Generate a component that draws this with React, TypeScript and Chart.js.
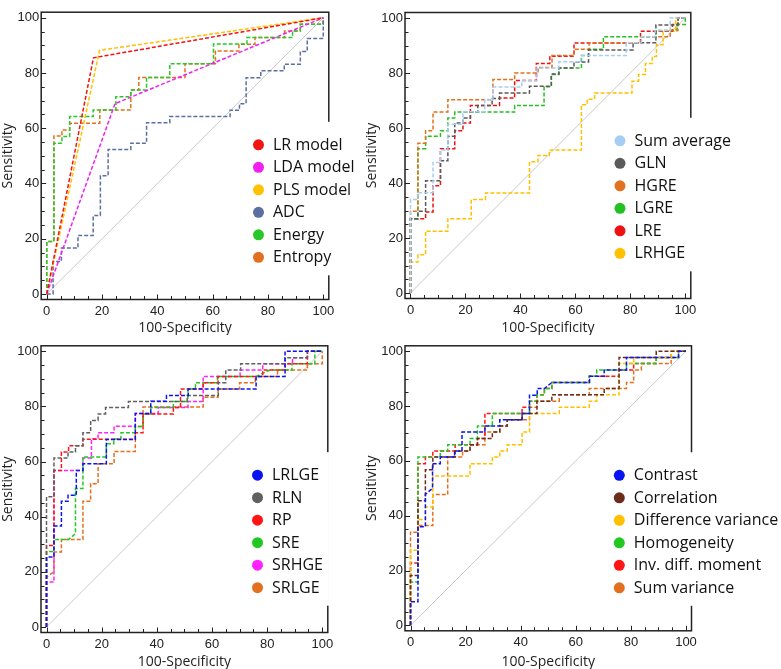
import React, { useEffect, useRef } from "react";
import { Chart, registerables } from "chart.js";
Chart.register(...registerables);

type P = [number, number];

const tickValues = [0, 20, 40, 60, 80, 100];
const xTitle = "100-Specificity";
const yTitle = "Sensitivity";
const diagonal: P[] = [[0, 0], [100, 100]];

// ---- Panel A ----
const labelsA = ["LR model", "LDA model", "PLS model", "ADC", "Energy", "Entropy"];
const colorsA = ["#f01414", "#f020f0", "#ffc000", "#5c6fa3", "#28c828", "#e3701e"];
const lrModel: P[] = [[0, 0], [16.9, 85.5], [100, 100]];
const ldaModel: P[] = [[0, 0], [24.7, 68.9], [100, 100]];
const plsModel: P[] = [[0, 0], [19.1, 88.2], [100, 100]];
const adc: P[] = [[0, 0], [2.3, 0], [2.3, 11.8], [5.3, 11.8], [5.3, 16.6], [11.3, 16.6], [11.3, 21.2], [16.8, 21.2], [16.8, 28.4], [19.4, 28.4], [19.4, 42.8], [22.2, 42.8], [22.2, 52.3], [30.4, 52.3], [30.4, 54.6], [36.1, 54.6], [36.1, 62], [44.5, 62], [44.5, 64.2], [66.3, 64.2], [66.3, 66.5], [69.7, 66.5], [69.7, 68.9], [72.1, 68.9], [72.1, 78.3], [77.4, 78.3], [77.4, 80.8], [85.9, 80.8], [85.9, 83.2], [91.7, 83.2], [91.7, 87.8], [94.2, 87.8], [94.2, 92.5], [100, 92.5], [100, 100]];
const energy: P[] = [[0, 0], [0, 19], [2.6, 19], [2.6, 54.6], [5.5, 54.6], [5.5, 57], [8.3, 57], [8.3, 64.2], [16.8, 64.2], [16.8, 66.6], [25, 66.6], [25, 71.4], [30.4, 71.4], [30.4, 73.8], [36.1, 73.8], [36.1, 78.4], [44.5, 78.4], [44.5, 83.3], [60.3, 83.3], [60.3, 90.5], [72.4, 90.5], [72.4, 92.8], [88.9, 92.8], [88.9, 95.2], [91.7, 95.2], [91.7, 97.6], [100, 97.6], [100, 100]];
const entropy: P[] = [[0, 0], [0, 19], [2.6, 19], [2.6, 57.2], [5.5, 57.2], [5.5, 59.4], [8.3, 59.4], [8.3, 61.8], [19.2, 61.8], [19.2, 66.6], [30.4, 66.6], [30.4, 73.8], [33.3, 73.8], [33.3, 78.4], [50, 78.4], [50, 83.3], [61, 83.3], [61, 88], [69.5, 88], [69.5, 90.4], [75.3, 90.4], [75.3, 92.8], [86, 92.8], [86, 95.2], [91.7, 95.2], [91.7, 97.6], [100, 97.6], [100, 100]];

// ---- Panel B ----
const labelsB = ["Sum average", "GLN", "HGRE", "LGRE", "LRE", "LRHGE"];
const colorsB = ["#a6cdf4", "#5a5a5a", "#e3701e", "#22c022", "#ee1111", "#ffc000"];
const sumAverage: P[] = [[0, 0], [0, 34], [2.7, 34], [2.7, 36.5], [8.2, 36.5], [8.2, 47.5], [10.9, 47.5], [10.9, 52], [13.6, 52], [13.6, 61.4], [19.1, 61.4], [19.1, 65.9], [27, 65.9], [27, 70.4], [30, 70.4], [30, 74.9], [40.5, 74.9], [40.5, 77.3], [46, 77.3], [46, 81.8], [54, 81.8], [54, 84.1], [62, 84.1], [62, 86.4], [78.5, 86.4], [78.5, 91], [84, 91], [84, 93.2], [89, 93.2], [89, 95.5], [94.5, 95.5], [94.5, 100], [100, 100]];
const gln: P[] = [[0, 0], [0, 27], [2.7, 27], [2.7, 29.7], [5.5, 29.7], [5.5, 40.8], [10.9, 40.8], [10.9, 48.1], [13.6, 48.1], [13.6, 57], [16.1, 57], [16.1, 61.8], [19.1, 61.8], [19.1, 63.6], [21.8, 63.6], [21.8, 65.9], [24.5, 65.9], [24.5, 68.2], [29.7, 68.2], [29.7, 70.7], [32.4, 70.7], [32.4, 72.7], [43.3, 72.7], [43.3, 75.2], [51.2, 75.2], [51.2, 79.6], [54, 79.6], [54, 81.8], [59.5, 81.8], [59.5, 84], [64.8, 84], [64.8, 88.4], [81, 88.4], [81, 91], [89.3, 91], [89.3, 97.5], [97.3, 97.5], [97.3, 100], [100, 100]];
const hgre: P[] = [[0, 0], [0, 29.7], [2.7, 29.7], [2.7, 54.5], [5.5, 54.5], [5.5, 59], [8.2, 59], [8.2, 65.8], [13.6, 65.8], [13.6, 70.3], [30, 70.3], [30, 77.6], [37.9, 77.6], [37.9, 80], [46.4, 80], [46.4, 82], [51.5, 82], [51.5, 86.4], [59.5, 86.4], [59.5, 88.6], [65, 88.6], [65, 90.9], [84, 90.9], [84, 93.2], [94.5, 93.2], [94.5, 95.5], [97.3, 95.5], [97.3, 100], [100, 100]];
const lgre: P[] = [[0, 0], [0, 27], [2.7, 27], [2.7, 52.5], [5.5, 52.5], [5.5, 57], [10.9, 57], [10.9, 59], [13.6, 59], [13.6, 63.6], [16.1, 63.6], [16.1, 65.8], [37.9, 65.8], [37.9, 68.2], [48.6, 68.2], [48.6, 75], [51.3, 75], [51.3, 79.5], [54, 79.5], [54, 81.8], [62.2, 81.8], [62.2, 86.4], [64.8, 86.4], [64.8, 88.6], [70.2, 88.6], [70.2, 93.2], [89.3, 93.2], [89.3, 95.5], [97, 95.5], [97, 97.6], [100, 97.6], [100, 100]];
const lre: P[] = [[0, 0], [0, 27], [5.5, 27], [5.5, 29.5], [8.2, 29.5], [8.2, 39], [10.9, 39], [10.9, 52.5], [16.1, 52.5], [16.1, 59], [19.1, 59], [19.1, 61.8], [21.8, 61.8], [21.8, 68.2], [32.4, 68.2], [32.4, 70.9], [37.9, 70.9], [37.9, 77.3], [45.8, 77.3], [45.8, 83.5], [50.7, 83.5], [50.7, 86.1], [59.5, 86.1], [59.5, 90.9], [83.7, 90.9], [83.7, 95.2], [95.3, 95.2], [95.3, 97.6], [97.4, 97.6], [97.4, 100], [100, 100]];
const lrhge: P[] = [[0, 0], [0, 11.3], [2.7, 11.3], [2.7, 13.9], [5.5, 13.9], [5.5, 22.5], [13.6, 22.5], [13.6, 27], [22.1, 27], [22.1, 34], [27.3, 34], [27.3, 36.4], [43.3, 36.4], [43.3, 47.7], [46.4, 47.7], [46.4, 50], [50.5, 50], [50.5, 52], [62.2, 52], [62.2, 68.5], [64.3, 68.5], [64.3, 70.5], [67, 70.5], [67, 72.7], [80.6, 72.7], [80.6, 77], [83, 77], [83, 79.5], [85.5, 79.5], [85.5, 83.5], [88, 83.5], [88, 86], [89.5, 86], [89.5, 90.3], [91.9, 90.3], [91.9, 95.2], [96.5, 95.2], [96.5, 100], [100, 100]];

// ---- Panel C ----
const labelsC = ["LRLGE", "RLN", "RP", "SRE", "SRHGE", "SRLGE"];
const colorsC = ["#0a14f0", "#606060", "#ff1515", "#22c822", "#ff22ff", "#e3701e"];
const lrlge: P[] = [[0, 0], [0, 25.4], [2.7, 25.4], [2.7, 36.6], [5.4, 36.6], [5.4, 45.6], [7.8, 45.6], [7.8, 47.8], [10.8, 47.8], [10.8, 56.8], [13.2, 56.8], [13.2, 59.2], [21.7, 59.2], [21.7, 68], [32.2, 68], [32.2, 77.4], [37.8, 77.4], [37.8, 81.9], [43.5, 81.9], [43.5, 84], [51.4, 84], [51.4, 86.3], [76, 86.3], [76, 90.9], [86.5, 90.9], [86.5, 100], [100, 100]];
const rln: P[] = [[0, 0], [0, 47.2], [2.7, 47.2], [2.7, 61.3], [7.8, 61.3], [7.8, 63.5], [10.5, 63.5], [10.5, 65.7], [13.2, 65.7], [13.2, 70.5], [16, 70.5], [16, 74.9], [18.7, 74.9], [18.7, 77.3], [21.4, 77.3], [21.4, 79.6], [29.7, 79.6], [29.7, 81.8], [51, 81.8], [51, 84], [62.3, 84], [62.3, 88.6], [65, 88.6], [65, 93.2], [70.4, 93.2], [70.4, 95.5], [86.5, 95.5], [86.5, 97.7], [94.6, 97.7], [94.6, 100], [100, 100]];
const rp: P[] = [[0, 0], [0, 29.6], [2.7, 29.6], [2.7, 56.8], [5.4, 56.8], [5.4, 63.5], [8, 63.5], [8, 65.7], [13.2, 65.7], [13.2, 68.1], [32.2, 68.1], [32.2, 70.5], [35, 70.5], [35, 77.3], [46, 77.3], [46, 79.6], [48.6, 79.6], [48.6, 86.3], [56.8, 86.3], [56.8, 88.6], [62.2, 88.6], [62.2, 90.9], [78.4, 90.9], [78.4, 93.2], [86.5, 93.2], [86.5, 95.5], [94.6, 95.5], [94.6, 100], [100, 100]];
const sre: P[] = [[0, 0], [0, 27.4], [2.7, 27.4], [2.7, 31.7], [8, 31.7], [10.5, 33.9], [10.5, 50.2], [13.2, 50.2], [13.2, 61.7], [21.7, 61.7], [21.7, 66.5], [24.4, 66.5], [24.4, 68.2], [27, 68.2], [27, 70.5], [32.2, 70.5], [32.2, 72.7], [35, 72.7], [35, 77.3], [37.8, 77.3], [37.8, 79.6], [46, 79.6], [46, 81.8], [51.3, 81.8], [51.3, 86.3], [54, 86.3], [54, 88.6], [62, 88.6], [62, 90.9], [76, 90.9], [81, 93.2], [89, 93.2], [89, 95.5], [97.3, 95.5], [97.3, 100], [100, 100]];
const srhge: P[] = [[0, 0], [0, 16.3], [2.7, 16.3], [2.7, 56.8], [13.2, 56.8], [13.2, 61.3], [16.3, 61.3], [16.3, 68.3], [18.7, 68.3], [18.7, 70.5], [24.5, 70.5], [24.5, 72.8], [32.2, 72.8], [32.2, 77.4], [40.5, 77.4], [40.5, 79.6], [51.3, 79.6], [51.3, 81.8], [56.8, 81.8], [56.8, 90.9], [70.2, 90.9], [70.2, 93.2], [78.4, 93.2], [78.4, 95.5], [89.2, 95.5], [89.2, 97.7], [94.6, 97.7], [94.6, 100], [100, 100]];
const srlge: P[] = [[0, 0], [0, 18.1], [2.7, 20], [2.7, 27.2], [5.4, 27.2], [5.4, 31.7], [13.2, 31.7], [13.2, 45.6], [16, 45.6], [16, 52], [18.7, 52], [18.7, 59.2], [24.5, 59.2], [24.5, 63.7], [32.2, 63.7], [32.2, 72.7], [35, 72.7], [35, 79.8], [56.8, 79.8], [56.8, 83.3], [62.2, 83.3], [62.2, 86.3], [70, 86.3], [70, 88.6], [75.7, 88.6], [75.7, 90.9], [83.8, 90.9], [83.8, 93.2], [94.6, 93.2], [94.6, 95.5], [100, 95.5], [100, 100]];

// ---- Panel D ----
const labelsD = ["Contrast", "Correlation", "Difference variance", "Homogeneity", "Inv. diff. moment", "Sum variance"];
const colorsD = ["#0a14f0", "#6b2c1c", "#ffc000", "#22c822", "#ff1515", "#e3701e"];
const contrast: P[] = [[0, 0], [0, 8.6], [2.7, 8.6], [2.7, 36], [5.4, 36], [5.4, 47.8], [8, 50], [8, 59], [10.8, 59], [10.8, 61.4], [16, 61.4], [16, 63.6], [18.7, 63.6], [18.7, 70.5], [27, 70.5], [27, 72.7], [32.4, 72.7], [32.4, 75], [40.5, 75], [40.5, 77.3], [43.2, 77.3], [43.2, 84], [46, 84], [46, 86.4], [48.6, 86.4], [51.3, 88.6], [65, 88.6], [65, 90.9], [70.3, 90.9], [70.3, 93.2], [78.4, 93.2], [78.4, 97.7], [97.3, 97.7], [97.3, 100], [100, 100]];
const correlation: P[] = [[0, 0], [0, 18.2], [2.7, 18.2], [2.7, 45.5], [5.4, 45.5], [5.4, 56.8], [8.1, 56.8], [8.1, 61.4], [16.2, 61.4], [16.2, 63.6], [21.6, 63.6], [21.6, 65.9], [24.3, 65.9], [24.3, 68.2], [29.7, 68.2], [29.7, 70.5], [32.4, 70.5], [32.4, 72.7], [35.1, 72.7], [35.1, 75], [40.5, 75], [40.5, 77.3], [45.9, 77.3], [45.9, 81.8], [51.3, 81.8], [51.3, 84.1], [70.3, 84.1], [70.3, 86.4], [75.7, 86.4], [75.7, 97.7], [89.2, 97.7], [89.2, 100], [100, 100]];
const diffVariance: P[] = [[0, 0], [0, 27.4], [2.7, 27.4], [2.7, 38.6], [5.4, 38.6], [5.4, 43.2], [8.1, 43.2], [8.1, 54.5], [21.6, 54.5], [21.6, 59], [29.7, 59], [29.7, 61.4], [32.4, 61.4], [32.4, 63.6], [35.1, 63.6], [35.1, 65.9], [40.5, 65.9], [40.5, 70.5], [43.2, 70.5], [43.2, 77.3], [54, 77.3], [54, 79.6], [64.9, 79.6], [64.9, 81.8], [67.6, 81.8], [67.6, 84.1], [75.7, 84.1], [75.7, 95.5], [81, 95.5], [81, 97.7], [94.6, 97.7], [94.6, 100], [100, 100]];
const homogeneity: P[] = [[0, 0], [0, 15.8], [2.7, 15.8], [2.7, 61.4], [10.8, 61.4], [10.8, 63.6], [13.5, 63.6], [13.5, 65.9], [21.6, 65.9], [21.6, 68.2], [24.3, 68.2], [24.3, 72.7], [29.7, 72.7], [29.7, 77.3], [43.2, 77.3], [43.2, 81.8], [45.9, 81.8], [45.9, 84.1], [48.6, 84.1], [48.6, 86.4], [51.3, 86.4], [51.3, 88.6], [64.9, 88.6], [64.9, 90.9], [67.6, 90.9], [67.6, 93.2], [78.4, 93.2], [78.4, 95.5], [89.2, 95.5], [89.2, 97.7], [97.3, 97.7], [97.3, 100], [100, 100]];
const invDiffMoment: P[] = [[0, 0], [0, 22.7], [2.7, 22.7], [2.7, 59], [5.4, 59], [5.4, 61.4], [8.1, 61.4], [8.1, 63.6], [16.2, 63.6], [16.2, 65.9], [24.3, 65.9], [24.3, 68.2], [27, 68.2], [27, 77.3], [40.5, 77.3], [40.5, 79.6], [43.2, 79.6], [43.2, 81.8], [45.9, 81.8], [45.9, 84.1], [48.6, 84.1], [48.6, 86.4], [51.3, 86.4], [51.3, 88.6], [64.9, 88.6], [64.9, 90.9], [75.7, 90.9], [75.7, 93.2], [81, 93.2], [81, 95.5], [89.2, 95.5], [89.2, 97.7], [97.3, 97.7], [97.3, 100], [100, 100]];
const sumVariance: P[] = [[0, 0], [0, 34], [2.7, 34], [2.7, 36.4], [8.1, 36.4], [8.1, 47.7], [13.5, 47.7], [13.5, 61.4], [18.9, 61.4], [18.9, 63.6], [21.6, 63.6], [21.6, 65.9], [27, 65.9], [27, 70.5], [32.4, 70.5], [32.4, 72.7], [35.1, 72.7], [35.1, 75], [43.2, 75], [43.2, 79.6], [45.9, 79.6], [45.9, 81.8], [54, 81.8], [54, 84.1], [64.9, 84.1], [64.9, 86.4], [78.4, 86.4], [78.4, 88.6], [81, 88.6], [81, 93.2], [83.8, 93.2], [83.8, 95.5], [94.6, 95.5], [94.6, 100], [100, 100]];

type PanelCfg = {
  left: number; top: number; w: number; h: number;
  area: { l: number; r: number; t: number; b: number };
  padL: number;
  legend: { cx: number; y0: number };
  labels: string[]; colors: string[]; series: P[][];
};

const panels: PanelCfg[] = [
  { left: 0, top: 0, w: 390, h: 335, area: { l: 41.2, r: 328.8, t: 12.2, b: 299.5 }, padL: 1.3,
    legend: { cx: 258.5, y0: 144.8 }, labels: labelsA, colors: colorsA,
    series: [lrModel, ldaModel, plsModel, adc, energy, entropy] },
  { left: 360, top: 0, w: 421, h: 335, area: { l: 45, r: 330.8, t: 12.5, b: 298.5 }, padL: 5,
    legend: { cx: 260, y0: 140.8 }, labels: labelsB, colors: colorsB,
    series: [sumAverage, gln, hgre, lgre, lre, lrhge] },
  { left: 0, top: 335, w: 390, h: 334, area: { l: 41, r: 327.8, t: 10.8, b: 297.5 }, padL: 1.3,
    legend: { cx: 257.5, y0: 140.2 }, labels: labelsC, colors: colorsC,
    series: [lrlge, rln, rp, sre, srhge, srlge] },
  { left: 360, top: 335, w: 421, h: 334, area: { l: 45, r: 331.5, t: 10.8, b: 295.8 }, padL: 5,
    legend: { cx: 259.3, y0: 140.3 }, labels: labelsD, colors: colorsD,
    series: [contrast, correlation, diffVariance, homogeneity, invDiffMoment, sumVariance] },
];

const decorPlugin = {
  id: "decor",
  afterDraw(chart: any, _args: any, opts: any) {
    const { ctx, chartArea: a } = chart;
    const xs = chart.scales.x;
    const ys = chart.scales.y;
    ctx.save();
    ctx.strokeStyle = "#222";
    ctx.lineWidth = 1;
    for (let v = 0; v <= 100; v += 5) {
      const len = v % 20 === 0 ? 5 : 3.5;
      const px = Math.round(xs.getPixelForValue(v)) + 0.5;
      ctx.beginPath();
      ctx.moveTo(px, a.bottom);
      ctx.lineTo(px, a.bottom - len);
      ctx.stroke();
      const py = Math.round(ys.getPixelForValue(v)) + 0.5;
      ctx.beginPath();
      ctx.moveTo(a.left, py);
      ctx.lineTo(a.left + len, py);
      ctx.stroke();
    }
    ctx.lineWidth = 1.5;
    ctx.strokeRect(a.left, a.top, a.right - a.left, a.bottom - a.top);

    const L = opts.legend;
    const step = 22.5;
    ctx.font = '16px "Open Sans"';
    const items = chart.data.datasets.filter((d: any) => d.label);
    const widths = items.map((d: any) => ctx.measureText(d.label).width);
    const boxL = L.cx - 12;
    const boxR = Math.min(chart.width, L.cx + 14.5 + Math.max(...widths) + 6);
    const boxT = L.y0 - 23;
    const boxB = L.y0 + (items.length - 1) * step + 18;
    ctx.fillStyle = "#fff";
    ctx.fillRect(boxL, boxT, boxR - boxL, boxB - boxT);
    items.forEach((d: any, i: number) => {
      const cy = L.y0 + i * step;
      ctx.beginPath();
      ctx.arc(L.cx, cy, 5.5, 0, Math.PI * 2);
      ctx.fillStyle = d.borderColor;
      ctx.fill();
      ctx.fillStyle = "#111";
      ctx.textAlign = "left";
      ctx.textBaseline = "middle";
      ctx.fillText(d.label, L.cx + 14.5, cy + 0.5);
    });
    ctx.restore();
  },
};

function Panel({ cfg }: { cfg: PanelCfg }) {
  const ref = useRef<HTMLCanvasElement>(null);
  useEffect(() => {
    const datasets: any[] = cfg.series.map((s, i) => ({
      label: cfg.labels[i],
      data: s.map(([x, y]) => ({ x, y })),
      borderColor: cfg.colors[i],
      backgroundColor: cfg.colors[i],
      borderWidth: 1.5,
      borderDash: [4, 2],
      pointRadius: 0,
      showLine: true,
      tension: 0,
      fill: false,
    }));
    datasets.push({
      label: "",
      data: diagonal.map(([x, y]) => ({ x, y })),
      borderColor: "#c8c8c8",
      borderWidth: 1,
      pointRadius: 0,
      showLine: true,
      fill: false,
    });
    const tickFont = { family: '"Liberation Sans", Arial, sans-serif', size: 13 };
    const titleFont = { family: '"Open Sans", sans-serif', size: 14, lineHeight: 1 };
    const chart = new Chart(ref.current as HTMLCanvasElement, {
      type: "scatter",
      data: { datasets },
      plugins: [decorPlugin as any],
      options: {
        animation: false,
        responsive: false,
        devicePixelRatio: 1,
        events: [],
        layout: { padding: { left: cfg.padL, top: cfg.area.t, right: cfg.w - cfg.area.r, bottom: 0 } },
        plugins: {
          legend: { display: false },
          tooltip: { enabled: false },
          decor: { legend: cfg.legend },
        } as any,
        scales: {
          x: {
            type: "linear", min: -2, max: 102,
            grid: { display: false, drawTicks: false },
            border: { display: false },
            afterBuildTicks: (s: any) => { s.ticks = tickValues.map((v) => ({ value: v })); },
            afterFit: (s: any) => { s.height = cfg.h - cfg.area.b; },
            ticks: { padding: 4, font: tickFont, color: "#222", maxRotation: 0, autoSkip: false },
            title: { display: true, text: xTitle, font: titleFont, color: "#222", padding: 0 },
          },
          y: {
            type: "linear", min: -2, max: 102,
            grid: { display: false, drawTicks: false },
            border: { display: false },
            afterBuildTicks: (s: any) => { s.ticks = tickValues.map((v) => ({ value: v })); },
            afterFit: (s: any) => { s.width = cfg.area.l - cfg.padL; },
            ticks: { padding: 2, font: tickFont, color: "#222", autoSkip: false },
            title: { display: true, text: yTitle, font: titleFont, color: "#222", padding: 0 },
          },
        },
      } as any,
    });
    return () => chart.destroy();
  }, [cfg]);
  return (
    <canvas
      ref={ref}
      width={cfg.w}
      height={cfg.h}
      style={{ position: "absolute", left: cfg.left, top: cfg.top, width: cfg.w, height: cfg.h }}
    />
  );
}

export default function App() {
  return (
    <div style={{ position: "absolute", left: 0, top: 0, width: 781, height: 669, background: "#fff", overflow: "hidden" }}>
      {panels.map((p, i) => (
        <Panel key={i} cfg={p} />
      ))}
    </div>
  );
}
